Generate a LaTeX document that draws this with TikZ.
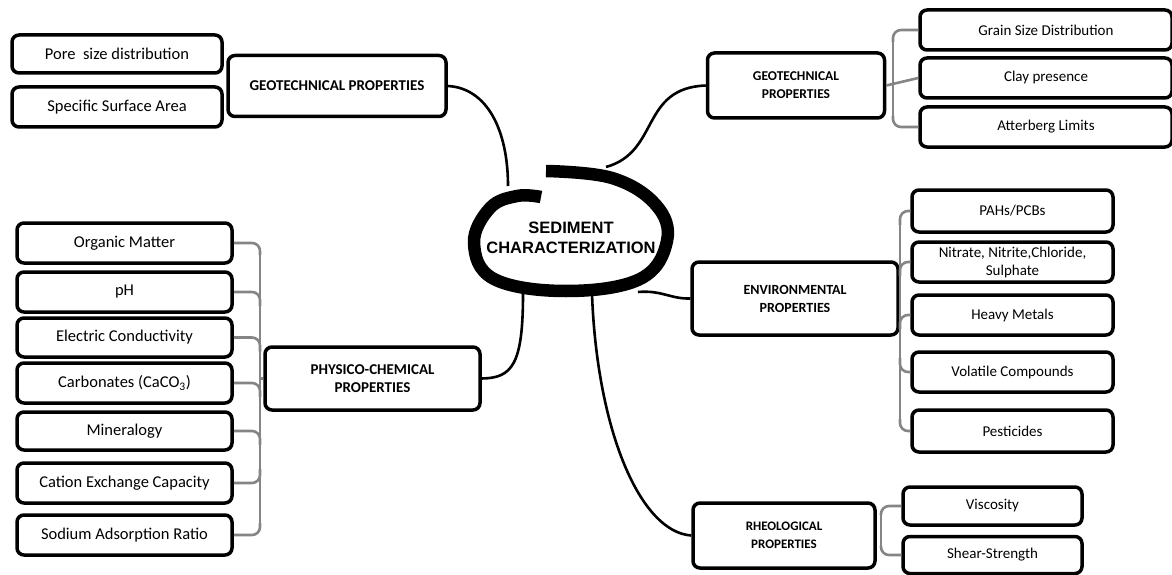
\documentclass[tikz,border=0pt]{standalone}
\usepackage{fontspec}
\setmainfont{Carlito}
\newfontfamily\centerfont{Liberation Sans}
\usetikzlibrary{calc}
\tikzset{
  leaf/.style={draw=black, line width=3.5pt, rounded corners=7pt, fill=white, align=center,
    inner sep=2pt, font=\fontsize{15}{18}\selectfont},
  bigleaf/.style={leaf, font=\fontsize{16.5}{19}\selectfont},
  hub/.style={leaf, font=\fontsize{14}{18}\selectfont\bfseries},
  conn/.style={draw=black, line width=2.6pt},
  br/.style={draw=black!48, line width=2.6pt, rounded corners=8pt},
  ring/.style={draw=black, line width=12.5pt, line cap=butt},
}
\begin{document}
\begin{tikzpicture}[x=1pt,y=-1pt]
\useasboundingbox (0,0) rectangle (1172,575);
% ---------- top left
\node[bigleaf, minimum width=210pt, minimum height=38pt] (pore) at (117,54) {Pore\ \ size distribution};
\node[bigleaf, minimum width=210pt, minimum height=40pt] (ssa) at (117,107) {Specific Surface Area};
\node[hub, minimum width=218pt, minimum height=61pt, font=\fontsize{15}{18}\selectfont\bfseries] (geoL) at (337,86) {GEOTECHNICAL PROPERTIES};
% ---------- top right
\node[hub, minimum width=177pt, minimum height=65pt, font=\fontsize{13.5}{18}\selectfont\bfseries] (geoR) at (796,85.5) {GEOTECHNICAL\\PROPERTIES};
\node[leaf, minimum width=252pt, minimum height=40pt] (grain) at (1046,30) {Grain Size Distribution};
\node[leaf, minimum width=252pt, minimum height=40pt] (clay) at (1046,78) {Clay presence};
\node[leaf, minimum width=252pt, minimum height=40pt] (atter) at (1046,127) {Atterberg Limits};
% ---------- bottom left
\node[bigleaf, minimum width=215pt, minimum height=40pt] (om) at (124.5,243) {Organic Matter};
\node[bigleaf, minimum width=215pt, minimum height=40pt] (ph) at (124.5,292) {pH};
\node[bigleaf, minimum width=215pt, minimum height=39pt] (ec) at (124.5,337.5) {Electric Conductivity};
\node[bigleaf, minimum width=215pt, minimum height=40pt] (carb) at (124.5,383) {Carbonates (CaCO\textsubscript{3})};
\node[bigleaf, minimum width=215pt, minimum height=38pt] (min) at (124.5,431) {Mineralogy};
\node[bigleaf, minimum width=215pt, minimum height=40pt] (cec) at (124.5,483) {Cation Exchange Capacity};
\node[bigleaf, minimum width=215pt, minimum height=40pt] (sar) at (124.5,535) {Sodium Adsorption Ratio};
\node[hub, minimum width=215pt, minimum height=63pt, font=\fontsize{15}{18}\selectfont\bfseries] (pc) at (372.5,378.5) {PHYSICO-CHEMICAL\\PROPERTIES};
% ---------- environmental
\node[hub, minimum width=206pt, minimum height=73pt] (env) at (795,298.5) {ENVIRONMENTAL\\PROPERTIES};
\node[leaf, minimum width=201pt, minimum height=42pt] (pah) at (1012.5,211) {PAHs/PCBs};
\node[leaf, minimum width=201pt, minimum height=40pt] (nit) at (1012.5,262) {Nitrate, Nitrite,Chloride,\\Sulphate};
\node[leaf, minimum width=201pt, minimum height=40pt] (hm) at (1012.5,315) {Heavy Metals};
\node[leaf, minimum width=201pt, minimum height=40pt] (vol) at (1012.5,372) {Volatile Compounds};
\node[leaf, minimum width=201pt, minimum height=42pt] (pest) at (1012.5,431) {Pesticides};
% ---------- rheological
\node[hub, minimum width=182pt, minimum height=65pt, font=\fontsize{13}{18}\selectfont\bfseries] (rheo) at (784,535.5) {RHEOLOGICAL\\PROPERTIES};
\node[leaf, minimum width=179pt, minimum height=38pt] (visc) at (992.5,506) {Viscosity};
\node[leaf, minimum width=179pt, minimum height=37pt] (shear) at (992.5,555) {Shear-Strength};

% ---------- brackets
% top right
\coordinate (trT) at (893,42);
\coordinate (trB) at (893,116);
\draw[br] (trT) -- (trB);
\draw[br] (grain.west) -| (trT);
\draw[br] (atter.west) -| (trB);
\draw[br] (geoR.east) -- (clay.west);
% bottom left
\coordinate (lbT) at (260,255);
\coordinate (lbB) at (260,523);
\draw[br] (lbT) -- (lbB);
\draw[br] (om.east) -| (lbT);
\draw[br] (sar.east) -| (lbB);
\foreach \n in {ph,ec,carb,min}{
  \draw[br] (\n.east) -| ($(\n.east -| lbT)+(0,14)$);
}
\draw[br] (cec.east) -| ($(cec.east -| lbT)+(0,-14)$);
\draw[br] (pc.west) -- (pc.west -| lbT);
% environmental
\coordinate (erT) at (900,225);
\coordinate (erB) at (900,419);
\draw[br] (erT) -- (erB);
\draw[br] (pah.west) -| (erT);
\draw[br] (pest.west) -| (erB);
\draw[br] (nit.west) -| ($(nit.west -| erT)+(0,14)$);
\draw[br] (hm.west) -| ($(hm.west -| erT)+(0,14)$);
\draw[br] (vol.west) -| ($(vol.west -| erT)+(0,-14)$);
\draw[br] (env.east) -- (env.east -| erT);
% rheological
\coordinate (rrT) at (881,515);
\coordinate (rrB) at (881,546);
\draw[br] (rrT) -- (rrB);
\draw[br] (visc.west) -| (rrT);
\draw[br] (shear.west) -| (rrB);

% ---------- connectors to the centre
\coordinate (eTL) at (508,186);
\coordinate (eTR) at (606,167);
\coordinate (eR) at (638,292);
\coordinate (eB1) at (523,294);
\coordinate (eB2) at (592,294);
\draw[conn] (geoL.east) .. controls (487,88) and (508,130) .. (eTL);
\draw[conn] (eTR) .. controls (660,152) and (640,88) .. (geoR.west);
\draw[conn] (eR) .. controls (662,290) and (670,299) .. (env.west);
\draw[conn] (eB2) .. controls (597,430) and (640,532) .. (rheo.west);
\draw[conn] (eB1) .. controls (523,365) and (512,378) .. (pc.east);

% ---------- centre ring
\draw[ring] plot[smooth, tension=0.65] coordinates {(546,171) (612,178) (656,205) (667,241) (640,279) (566,291) (494,279) (474,243) (490,208) (517,196) (541,197)};
\node[font=\centerfont\fontsize{16.5}{20}\selectfont\bfseries, align=center] (core) at (571,238) {SEDIMENT\\CHARACTERIZATION};
\end{tikzpicture}
\end{document}
